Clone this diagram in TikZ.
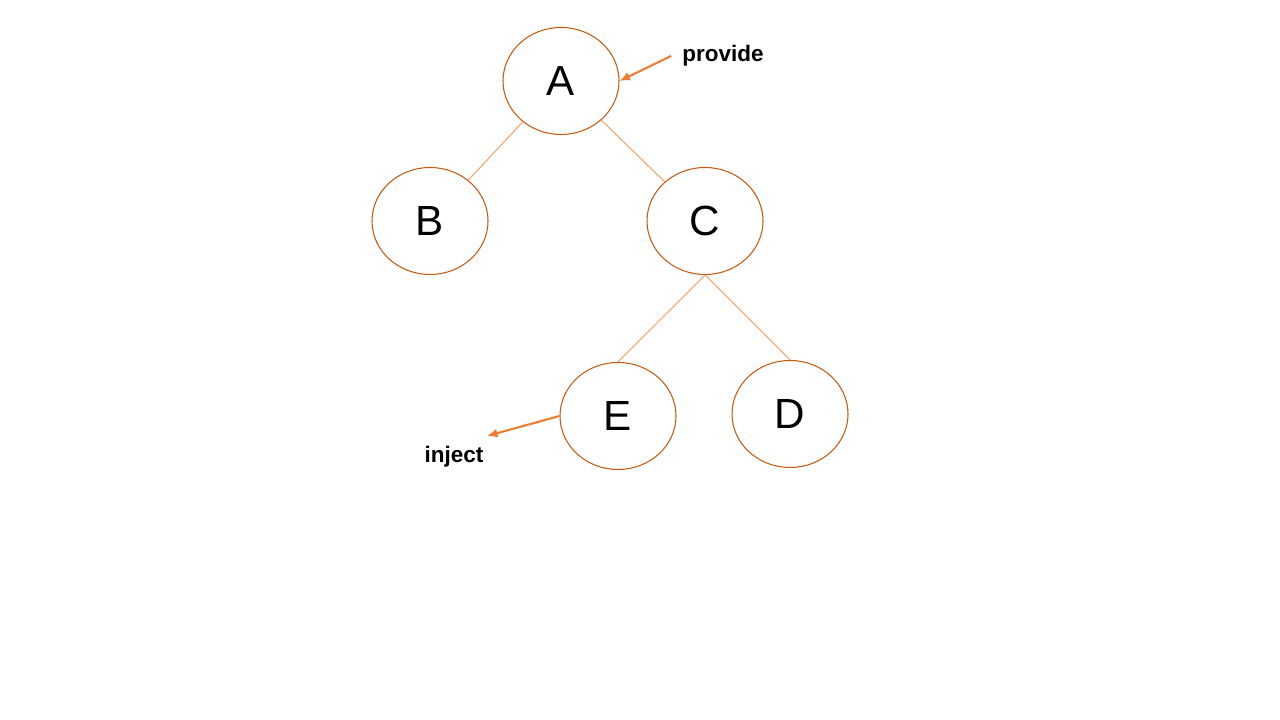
\documentclass[tikz,border=0pt]{standalone}
\usepackage{fontspec}
\setmainfont{Liberation Sans}
\usepackage{xcolor}
\usetikzlibrary{shapes, arrows.meta, positioning}
\definecolor{ringcol}{HTML}{C55A11}
\definecolor{linkcol}{HTML}{F4A46A}
\definecolor{arrcol}{HTML}{ED7D31}

\begin{document}
\begin{tikzpicture}[on grid, vertex/.style={ellipse, draw=ringcol, line width=0.3pt,
      minimum width=1.16cm, minimum height=1.07cm, inner sep=0pt, font=\fontsize{12}{12}\selectfont},
    note/.style={font=\bfseries\fontsize{6.4}{7}\selectfont, inner sep=3pt},
    pointer/.style={-{Latex[length=3pt,width=2.6pt]}, draw=arrcol, line width=0.6pt}]
      \useasboundingbox (0,0) rectangle (12.8,7.2);
      \node[vertex] (A) at (5.61,6.39)                     {A};
      \node[vertex] (B) [below left=1.40cm and 1.31cm of A]  {B};
      \node[vertex] (C) [below right=1.40cm and 1.44cm of A] {C};
      \node[vertex] (E) [below left=1.95cm and 0.87cm of C]  {E};
      \node[vertex] (D) [below right=1.93cm and 0.85cm of C] {D};
      \node[note]   (provide) at (7.23,6.64) {provide};
      \node[note]   (inject)  at (4.54,2.63) {inject};
      \coordinate   (injtip)  at (4.87,2.84);
      \path[draw=linkcol, line width=0.3pt]
        (A) edge (B)
            edge (C)
        (C.south) edge (E.north)
                  edge (D.north);
      \draw[pointer] (provide.west) -- (A.east);
      \draw[pointer] (E.west) -- (injtip);
    \end{tikzpicture}
\end{document}
